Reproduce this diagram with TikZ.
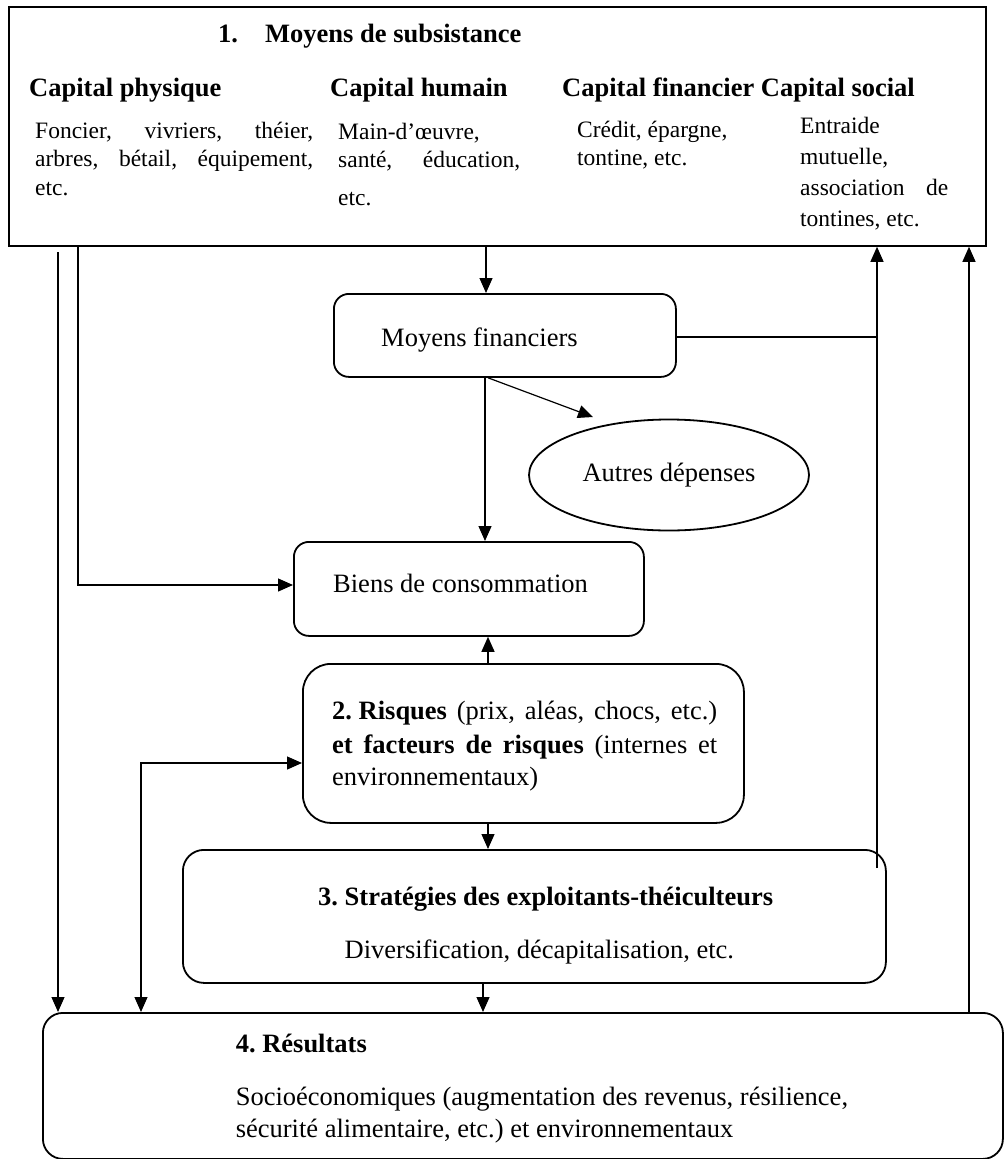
\documentclass[tikz,border=0pt]{standalone}
\usepackage{fontspec}
\setmainfont{Liberation Serif}
\usetikzlibrary{arrows.meta,shapes.geometric}
\frenchspacing
\begin{document}
\frenchspacing
\begin{tikzpicture}[x=1pt,y=-1pt,
  box/.style={draw,line width=1.8pt,inner sep=0pt,anchor=north west},
  conn/.style={line width=1.2pt},
  arr/.style={conn,-{Triangle[width=13pt,length=15pt]}},
  dblarr/.style={conn,{Triangle[width=13pt,length=15pt]}-{Triangle[width=13pt,length=15pt]}},
  txt/.style={anchor=base west,inner sep=0pt},
  big/.style={font=\fontsize{26.5}{32}\selectfont},
  bigb/.style={font=\fontsize{26.5}{32}\selectfont\bfseries},
  small/.style={font=\fontsize{23.5}{28}\selectfont}]
\useasboundingbox (0,0) rectangle (1004,1159);

% boxes
\node[box,minimum width=977pt,minimum height=239pt] (top) at (8,6) {};
\node[box,rounded corners=15pt,minimum width=342pt,minimum height=83pt] (mf) at (333,293) {};
\node[draw,ellipse,line width=1.8pt,minimum width=280pt,minimum height=111pt,inner sep=0pt,big] (ad) at (669,475) {Autres dépenses};
\node[box,rounded corners=15pt,minimum width=350pt,minimum height=94pt] (bc) at (293,541) {};
\node[box,rounded corners=28pt,minimum width=441pt,minimum height=159pt] (rk) at (302,663) {};
\node[box,rounded corners=21pt,minimum width=703pt,minimum height=133pt] (st) at (182,849) {};
\node[box,rounded corners=20pt,minimum width=960pt,minimum height=146pt] (res) at (42,1012) {};

% top box texts
\node[txt,bigb] (t1n) at (218,42) {1.};
\node[txt,bigb] (t1) at (265,42) {Moyens de subsistance};
\node[txt,bigb] (hphy) at (29,96) {Capital physique};
\node[txt,bigb] (hhum) at (330,96) {Capital humain};
\node[txt,bigb] (hfin) at (562,96) {Capital financier Capital social};

\node[txt,small] (p1) at (35,138) {\makebox[278pt][s]{Foncier, vivriers, théier,}};
\node[txt,small] (p2) at (35,166) {\makebox[278pt][s]{arbres, bétail, équipement,}};
\node[txt,small] (p3) at (35,195) {etc.};

\node[txt,small] (h1) at (338,139) {Main-d’œuvre,};
\node[txt,small] (h2) at (338,167) {\makebox[182pt][s]{santé, éducation,}};
\node[txt,small] (h3) at (338,205) {etc.};

\node[txt,small] (f1) at (577,137) {Crédit, épargne,};
\node[txt,small] (f2) at (577,165) {tontine, etc.};

\node[txt,small] (s1) at (800,133) {Entraide};
\node[txt,small] (s2) at (800,164) {mutuelle,};
\node[txt,small] (s3) at (800,195) {\makebox[148pt][s]{association de}};
\node[txt,small] (s4) at (800,226) {tontines, etc.};

% middle texts
\node[txt,big] (mft) at (381,346) {Moyens financiers};
\node[txt,big] (bct) at (333,592) {Biens de consommation};

\node[txt,big] (r1) at (332,719) {\makebox[385pt][s]{\mbox{\textbf{2. Risques}} (prix, aléas, chocs, etc.)}};
\node[txt,big] (r2) at (332,753) {\makebox[385pt][s]{\textbf{et facteurs de risques} (internes et}};
\node[txt,big] (r3) at (332,785) {environnementaux)};

\node[txt,bigb] (st1) at (318,905) {3. Stratégies des exploitants-théiculteurs};
\node[txt,big] (st2) at (344.5,958) {Diversification, décapitalisation, etc.};

\node[txt,bigb] (rs1) at (235.6,1052) {4. Résultats};
\node[txt,big] (rs2) at (235.6,1105) {Socioéconomiques (augmentation des revenus, résilience,};
\node[txt,big] (rs3) at (235.6,1137) {sécurité alimentaire, etc.) et environnementaux};

% helper coordinates
\coordinate (xA) at (486,0);
\coordinate (xB) at (485,0);
\coordinate (cs) at (488,377);
\coordinate (ct) at (593,417);
\coordinate (d0) at (58,252);
\coordinate (xE) at (78,0);
\coordinate (e0) at (0,585);
\coordinate (xF) at (488,0);
\coordinate (xH) at (483,0);
\coordinate (i0) at (141,763);
\coordinate (j0) at (877,868);
\coordinate (k0) at (0,337);
\coordinate (xL) at (969,0);

% connectors
\draw[arr] (top.south -| xA) -- (mf.north -| xA);
\draw[arr] (mf.south -| xB) -- (bc.north -| xB);
\draw[arr] (mf.south -| cs) -- (ct);
\draw[arr] (d0) -- (res.north -| d0);
\draw[arr] (top.south -| xE) |- (bc.west |- e0);
\draw[arr] (rk.north -| xF) -- (bc.south -| xF);
\draw[arr] (rk.south -| xF) -- (st.north -| xF);
\draw[arr] (st.south -| xH) -- (res.north -| xH);
\draw[dblarr] (rk.west |- i0) -| (res.north -| i0);
\draw[arr] (j0) -- (top.south -| j0);
\draw[conn] (mf.east |- k0) -- (j0 |- k0);
\draw[arr] (res.north -| xL) -- (top.south -| xL);
\end{tikzpicture}
\end{document}
